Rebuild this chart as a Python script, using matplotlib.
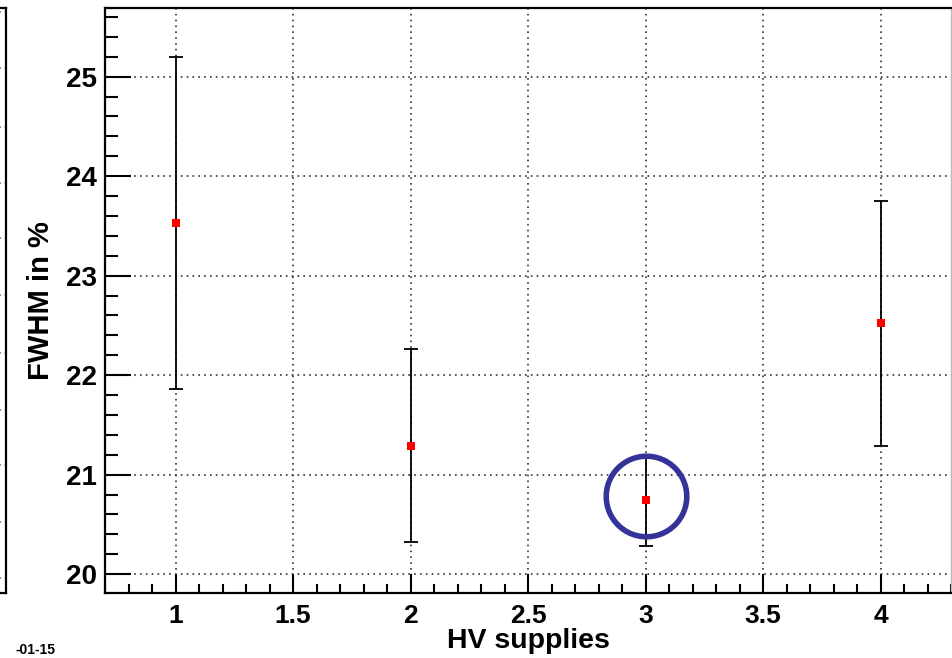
import matplotlib
matplotlib.use("Agg")
import matplotlib.pyplot as plt
from matplotlib.ticker import MultipleLocator, FuncFormatter

plt.rcParams['font.family'] = ['Liberation Sans', 'DejaVu Sans']

# ---- data ----
hv_supply = [1, 2, 3, 4]
fwhm = [23.53, 21.29, 20.74, 22.52]
fwhm_err = [1.67, 0.97, 0.46, 1.23]
highlight_x = 3.0
highlight_y = 20.79
xlabel = "HV supplies"
ylabel = "FWHM in %"
corner_text = "-01-15"

W, H, DPI = 952, 658, 100
fig = plt.figure(figsize=(W / DPI, H / DPI), dpi=DPI)

# neighbouring (cropped) panel on the left edge
left_grid_px = [12, 68, 127, 183, 238, 295, 353, 410, 465, 522, 578]
axn = fig.add_axes([(-200) / W, 1 - 593 / H, 206 / W, 585 / H])
axn.set_xlim(0, 1)
axn.set_ylim(593, 8)
axn.set_yticks(left_grid_px)
axn.set_xticks([])
axn.tick_params(left=False, labelleft=False, right=False)
axn.grid(True, axis='y', color='#333333', linestyle=(0, (1, 2.5)), linewidth=1.2)
for s in axn.spines.values():
    s.set_linewidth(1.6)
    s.set_color('black')

# main axes
ax = fig.add_axes([105 / W, 1 - 593 / H, 846 / W, 585 / H])
ax.set_xlim(0.7, 4.3)
ax.set_ylim(19.81, 25.69)

ax.errorbar(hv_supply, fwhm, yerr=fwhm_err, fmt='none', ecolor='black',
            elinewidth=1.3, capsize=5, capthick=1.3, zorder=3)
ax.plot(hv_supply, fwhm, 's', color='red', markersize=5.5,
        markeredgewidth=0, zorder=4)
ax.plot([highlight_x], [highlight_y], 'o', markersize=58, markerfacecolor='none',
        markeredgecolor='#333399', markeredgewidth=4, zorder=5, clip_on=False)

ax.xaxis.set_major_locator(MultipleLocator(0.5))
ax.xaxis.set_minor_locator(MultipleLocator(0.1))
ax.yaxis.set_major_locator(MultipleLocator(1))
ax.yaxis.set_minor_locator(MultipleLocator(0.2))
ax.xaxis.set_major_formatter(FuncFormatter(lambda v, p: f"{v:g}"))
ax.yaxis.set_major_formatter(FuncFormatter(lambda v, p: f"{v:g}"))

ax.grid(True, which='major', color='#333333', linestyle=(0, (1, 2.5)), linewidth=1.2)
ax.set_axisbelow(True)

ax.tick_params(axis='x', which='major', direction='in', length=14, width=1.5,
               labelsize=19, pad=8, top=False)
ax.tick_params(axis='x', which='minor', direction='in', length=6.5, width=1.5, top=False)
ax.tick_params(axis='y', which='major', direction='in', length=18.5, width=1.5,
               labelsize=20, pad=6, right=False)
ax.tick_params(axis='y', which='minor', direction='in', length=9.5, width=1.5, right=False)
for lab in ax.get_xticklabels() + ax.get_yticklabels():
    lab.set_fontweight('bold')

for name, s in ax.spines.items():
    s.set_linewidth(1.6)
    s.set_color('black')
ax.spines['right'].set_color('#bbbbbb')
ax.spines['right'].set_linewidth(1.0)

ax.set_xlabel(xlabel, fontsize=20.5, fontweight='bold', labelpad=0)
ax.set_ylabel(ylabel, fontsize=21, fontweight='bold', labelpad=8)

fig.text(15 / W, 1 / H, corner_text, fontsize=10, fontweight='bold',
         ha='left', va='bottom')

fig.savefig("out.png", dpi=DPI)
